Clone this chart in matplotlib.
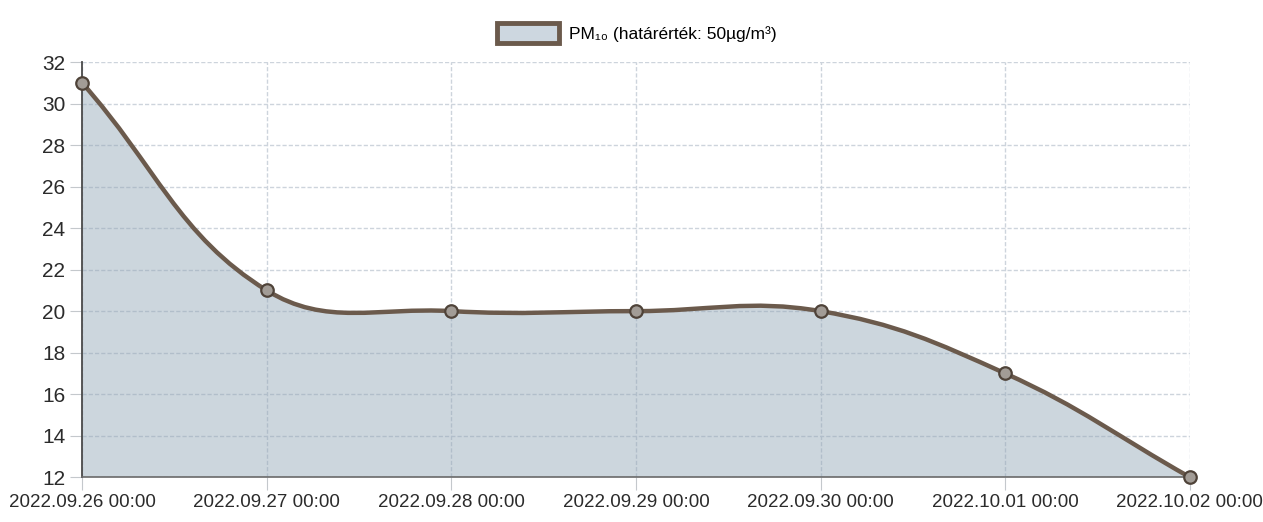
import numpy as np
import matplotlib
import matplotlib.pyplot as plt
from matplotlib.path import Path
from matplotlib.patches import PathPatch, Patch

matplotlib.rcParams["font.family"] = ["Liberation Sans", "DejaVu Sans"]

# adatok
dates = [
    "2022.09.26 00:00",
    "2022.09.27 00:00",
    "2022.09.28 00:00",
    "2022.09.29 00:00",
    "2022.09.30 00:00",
    "2022.10.01 00:00",
    "2022.10.02 00:00",
]
pm10 = [31, 21, 20, 20, 20, 17, 12]
y_ticks = [12, 14, 16, 18, 20, 22, 24, 26, 28, 30, 32]
legend_label = "PM₁₀ (határérték: 50µg/m³)"

LINE = "#6b5a4c"
FILL = "#8fa4b5"
GRID = "#cdd4dc"


def chartjs_curve(xs, ys, sx, sy, tension=0.4):
    # Chart.js-féle bezier kontrollpontok (pixel-arányos távolságokkal)
    px = np.asarray(xs, float) * sx
    py = np.asarray(ys, float) * sy
    n = len(px)
    prev_cp = np.zeros((n, 2))
    next_cp = np.zeros((n, 2))
    for i in range(n):
        a = max(i - 1, 0)
        b = min(i + 1, n - 1)
        d01 = np.hypot(px[i] - px[a], py[i] - py[a])
        d12 = np.hypot(px[b] - px[i], py[b] - py[i])
        tot = d01 + d12
        s01 = d01 / tot if tot else 0
        s12 = d12 / tot if tot else 0
        fa, fb = tension * s01, tension * s12
        dx, dy = px[b] - px[a], py[b] - py[a]
        prev_cp[i] = (px[i] - fa * dx, py[i] - fa * dy)
        next_cp[i] = (px[i] + fb * dx, py[i] + fb * dy)
    verts = [(px[0], py[0])]
    codes = [Path.MOVETO]
    for i in range(n - 1):
        verts += [tuple(next_cp[i]), tuple(prev_cp[i + 1]), (px[i + 1], py[i + 1])]
        codes += [Path.CURVE4] * 3
    verts = [(vx / sx, vy / sy) for vx, vy in verts]
    return verts, codes


x = np.arange(len(dates))
fig = plt.figure(figsize=(12.63, 5.22), dpi=100)
ax = fig.add_axes([0.065, 0.086, 0.877, 0.795])

ax.set_xlim(0, len(dates) - 1)
ax.set_ylim(y_ticks[0], y_ticks[-1])

sx = 1108 / (len(dates) - 1)
sy = 415 / (y_ticks[-1] - y_ticks[0])
verts, codes = chartjs_curve(x, pm10, sx, sy)

fill_verts = verts + [(x[-1], y_ticks[0]), (x[0], y_ticks[0]), verts[0]]
fill_codes = codes + [Path.LINETO, Path.LINETO, Path.CLOSEPOLY]
ax.add_patch(PathPatch(Path(fill_verts, fill_codes), facecolor=FILL, alpha=0.45,
                       edgecolor="none", zorder=2))
ax.add_patch(PathPatch(Path(verts, codes), facecolor="none", edgecolor=LINE,
                       lw=3.2, zorder=3, capstyle="round"))
ax.plot(x, pm10, "o", ms=9, mfc="#a29c96", mec="#4f4339", mew=1.6, zorder=4,
        clip_on=False)

ax.set_xticks(x)
ax.set_xticklabels(dates)
ax.set_yticks(y_ticks)
ax.tick_params(axis="both", length=9, color="#c4c8cc", labelsize=13.5,
               labelcolor="#2b2b2b", pad=3)
ax.tick_params(axis="y", labelsize=15)
ax.grid(True, color=GRID, lw=1.0, ls=(0, (3, 1.5)), zorder=1)
ax.set_axisbelow(True)
for s in ["top", "right"]:
    ax.spines[s].set_visible(False)
ax.spines["left"].set_color("#4a4a4a")
ax.spines["left"].set_linewidth(1.3)
ax.spines["bottom"].set_color("#6a6a6a")
ax.spines["bottom"].set_linewidth(1.2)

handle = Patch(facecolor="#cdd7e0", edgecolor=LINE, lw=3.5)
fig.legend([handle], [legend_label], loc="center", bbox_to_anchor=(0.504, 0.937),
           frameon=False, fontsize=12.5, handlelength=3.6, handleheight=1.4,
           handletextpad=0.55)

fig.savefig("out.png", dpi=100)
